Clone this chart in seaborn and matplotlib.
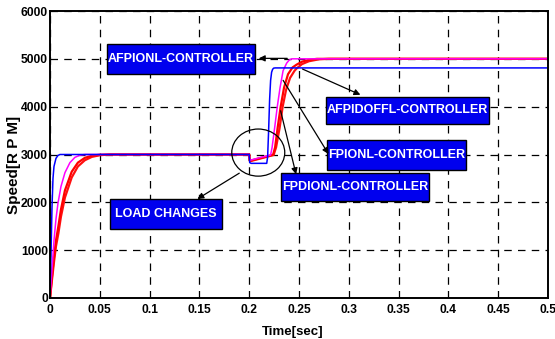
import matplotlib
matplotlib.use("Agg")
import matplotlib.pyplot as plt
from matplotlib.patches import Rectangle, Ellipse
import seaborn as sns
import pandas as pd

# ---- data ----
blue_t = [0, 0.001, 0.002, 0.003, 0.004, 0.006, 0.008, 0.010, 0.2, 0.2005, 0.202, 0.2176,
          0.2185, 0.2195, 0.2205, 0.2215, 0.2225, 0.2235, 0.2245, 0.226, 0.5]
blue_v = [0, 900, 1900, 2500, 2750, 2920, 2980, 3000, 3000, 2830, 2815, 2815,
          2950, 3500, 4150, 4550, 4720, 4780, 4805, 4810, 4810]

mag_t = [0, 0.002, 0.004, 0.006, 0.008, 0.011, 0.015, 0.02, 0.025, 0.03, 0.035,
         0.2, 0.2005, 0.201, 0.21, 0.2215, 0.223, 0.2255, 0.2282, 0.231, 0.234, 0.2376,
         0.240, 0.2426, 0.5]
mag_v = [0, 600, 1200, 1650, 1980, 2330, 2620, 2830, 2940, 2985, 3000,
         3000, 2890, 2880, 2930, 2990, 3150, 3550, 4000, 4400, 4750, 4910,
         4970, 5000, 5000]

red1_t = [0, 0.002, 0.004, 0.006, 0.0084, 0.011, 0.015, 0.0218, 0.028, 0.035, 0.042, 0.05, 0.06,
          0.2, 0.2005, 0.201, 0.212, 0.224, 0.226, 0.2285, 0.2316, 0.235, 0.239, 0.2435,
          0.2477, 0.253, 0.26, 0.268, 0.5]
red1_v = [0, 450, 850, 1200, 1500, 1850, 2250, 2640, 2830, 2930, 2975, 2995, 3000,
          3000, 2880, 2870, 2930, 2995, 3150, 3550, 4000, 4400, 4680, 4820,
          4880, 4940, 4980, 5000, 5000]

red2_t = [0, 0.002, 0.004, 0.006, 0.0084, 0.011, 0.015, 0.0218, 0.028, 0.035, 0.042, 0.05, 0.06,
          0.2, 0.2005, 0.201, 0.212, 0.2245, 0.227, 0.2305, 0.2336, 0.237, 0.241, 0.2455,
          0.2477, 0.253, 0.26, 0.27, 0.28, 0.5]
red2_v = [0, 380, 750, 1080, 1350, 1700, 2100, 2520, 2750, 2880, 2950, 2985, 3000,
          3000, 2870, 2860, 2920, 2990, 3150, 3550, 4000, 4350, 4600, 4750,
          4800, 4890, 4950, 4990, 5000, 5000]

x_ticks = [0, 0.05, 0.1, 0.15, 0.2, 0.25, 0.3, 0.35, 0.4, 0.45, 0.5]
x_tick_labels = ["0", "0.05", "0.1", "0.15", "0.2", "0.25", "0.3", "0.35", "0.4", "0.45", "0.5"]
y_ticks = [0, 1000, 2000, 3000, 4000, 5000, 6000]
y_tick_labels = ["0", "1000", "2000", "3000", "4000", "5000", "6000"]

sns.set_style("white")
plt.rcParams['font.family'] = ['Liberation Sans', 'DejaVu Sans']
plt.rcParams['text.color'] = 'black'
plt.rcParams['axes.labelcolor'] = 'black'

fig = plt.figure(figsize=(5.55, 3.39), dpi=100)
ax = fig.add_axes([50/555, 41/339, 498/555, 287/339])

series = [
    (red2_t, red2_v, "#ff1010", 1.6),
    (red1_t, red1_v, "#ff0000", 1.6),
    (mag_t, mag_v, "#ff00ff", 1.1),
    (blue_t, blue_v, "#0000ff", 1.1),
]
for t, v, c, lw in series:
    df = pd.DataFrame({"t": t, "v": v})
    sns.lineplot(data=df, x="t", y="v", color=c, linewidth=lw, ax=ax,
                 estimator=None, sort=False)

ax.set_xlim(0, 0.5)
ax.set_ylim(0, 6000)
ax.set_xticks(x_ticks)
ax.set_xticklabels(x_tick_labels, fontsize=8.7, fontweight="bold")
ax.set_yticks(y_ticks)
ax.set_yticklabels(y_tick_labels, fontsize=8.7, fontweight="bold")
ax.tick_params(axis="y", direction="in", length=3, pad=1.5, colors="black")
ax.tick_params(axis="x", direction="in", length=3, pad=4, colors="black")
ax.grid(True, color="black", linestyle=(0, (6, 5)), linewidth=0.9)
for s in ax.spines.values():
    s.set_color("black")
    s.set_linewidth(1.4)
ax.set_xlabel("Time[sec]", fontsize=9.5, fontweight="bold", color="black")
ax.xaxis.set_label_coords(0.488, -0.098)
ax.set_ylabel("Speed[R P M]", fontsize=11, fontweight="bold", color="black")
ax.yaxis.set_label_coords(-0.058, 0.465)

# annotation boxes (data coords)
boxes = [
    ("AFPIONL-CONTROLLER", 0.0572, 4684, 0.1486, 627),
    ("AFPIDOFFL-CONTROLLER", 0.2768, 3639, 0.1640, 570),
    ("FPIONL-CONTROLLER", 0.2781, 2677, 0.1396, 627),
    ("FPDIONL-CONTROLLER", 0.2316, 2035, 0.1489, 579),
    ("LOAD CHANGES", 0.0602, 1443, 0.1122, 627),
]
for txt, x0, y0, w, h in boxes:
    ax.add_patch(Rectangle((x0, y0), w, h, facecolor="#0000ee", edgecolor="black",
                           linewidth=1.0, zorder=5))
    ax.text(x0 + w/2, y0 + h/2, txt, color="white", fontsize=9, fontweight="bold",
            ha="center", va="center", zorder=6)

arrows = [
    ((0.2068, 5010), (0.2410, 5010)),
    ((0.3142, 4225), (0.2510, 4810)),
    ((0.2811, 2960), (0.2326, 4600)),
    ((0.2477, 2530), (0.2309, 3970)),
    ((0.1456, 2040), (0.1924, 2640)),
]
for head, tail in arrows:
    ax.annotate("", xy=head, xytext=tail,
                arrowprops=dict(arrowstyle="-|>", color="black", lw=0.9,
                                mutation_scale=9), zorder=7)

ax.add_patch(Ellipse((0.2091, 3040), 0.0532, 985, facecolor="none",
                     edgecolor="black", linewidth=0.9, zorder=7))

fig.savefig("out.png", dpi=100)
